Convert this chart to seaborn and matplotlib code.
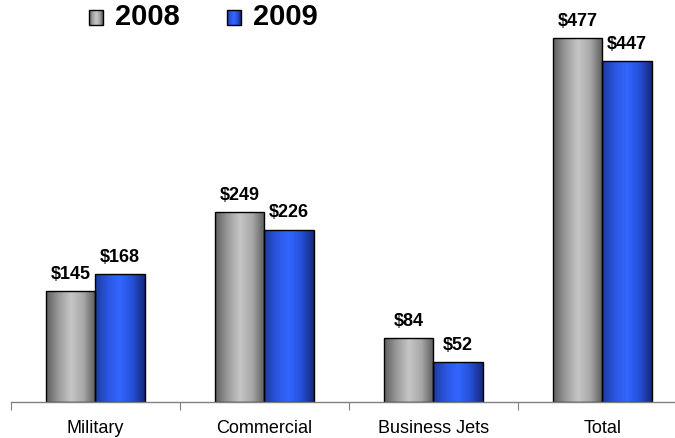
import matplotlib
matplotlib.use("Agg")
import matplotlib.pyplot as plt
import numpy as np
import pandas as pd
import seaborn as sns
from matplotlib.colors import LinearSegmentedColormap
from matplotlib.legend_handler import HandlerPatch
from matplotlib.patches import Patch, Rectangle

categories = ["Military", "Commercial", "Business Jets", "Total"]
years = ["2008", "2009"]
values_2008 = [145, 249, 84, 477]
values_2009 = [168, 226, 52, 447]

df = pd.DataFrame({
    "category": categories * 2,
    "year": [years[0]] * 4 + [years[1]] * 4,
    "value": values_2008 + values_2009,
})

# cylinder-like shading: dark edges, light band left of centre
cmaps = [
    LinearSegmentedColormap.from_list("grey", ["#5e5e5e", "#9a9a9a", "#c6c6c6", "#a8a8a8", "#5a5a5a"]),
    LinearSegmentedColormap.from_list("blue", ["#1c3a9c", "#2a55e0", "#3366ff", "#2550d8", "#16287a"]),
]


class GradientHandler(HandlerPatch):
    def __init__(self, cmap):
        super().__init__()
        self.cmap = cmap

    def create_artists(self, legend, orig_handle, xdescent, ydescent, width, height, fontsize, trans):
        n = 14
        side = width
        y0 = -ydescent + (height - side) / 2 - 0.12 * fontsize  # sit on text baseline
        arts = []
        for i in range(n):
            r = Rectangle((-xdescent + side * i / n, y0), side / n + 0.3, side,
                          facecolor=self.cmap((i + 0.5) / n), edgecolor="none", transform=trans)
            arts.append(r)
        arts.append(Rectangle((-xdescent, y0), side, side, facecolor="none",
                              edgecolor="black", linewidth=1, transform=trans))
        return arts


plt.rcParams["font.family"] = ["Liberation Sans", "DejaVu Sans"]
fig = plt.figure(figsize=(6.75, 4.38), dpi=100)
ax = fig.add_axes([11 / 675, 36 / 438, 676 / 675, 402 / 438])

sns.barplot(data=df, x="category", y="value", hue="year", palette=["#a0a0a0", "#2a55e0"],
            width=0.58, edgecolor="black", linewidth=1, saturation=1, legend=False, ax=ax)

ylim = (0, 527)
xlim = (-0.5, 3.5)
grad = np.linspace(0, 1, 256).reshape(1, -1)
for cont, cmap, vals in zip(ax.containers, cmaps, [values_2008, values_2009]):
    for bar in cont:
        x0, y0 = bar.get_x(), bar.get_y()
        im = ax.imshow(grad, cmap=cmap, aspect="auto", zorder=bar.get_zorder() - 0.1,
                       extent=(x0, x0 + bar.get_width(), y0, y0 + bar.get_height()))
        im.set_clip_path(bar)
        bar.set_facecolor("none")
    ax.bar_label(cont, labels=[f"${v}" for v in vals], padding=6,
                 fontsize=13, fontweight="bold")

ax.set_xlim(xlim)
ax.set_ylim(ylim)
ax.set_xlabel("")
ax.set_ylabel("")
ax.set_yticks([])
for s in ["top", "right", "left"]:
    ax.spines[s].set_visible(False)
ax.spines["bottom"].set_color("#808080")
ax.spines["bottom"].set_linewidth(1)

ax.set_xticks([-0.5, 0.5, 1.5, 2.5])
ax.set_xticklabels([])
ax.tick_params(axis="x", which="major", direction="out", length=6, color="#808080")
ax.set_xticks(range(len(categories)), minor=True)
ax.set_xticklabels(categories, minor=True, fontsize=13)
ax.tick_params(axis="x", which="minor", length=0, pad=13)

handles = [Patch(label=y) for y in years]
fig.legend(handles=handles, labels=years, loc="center left", bbox_to_anchor=(0.11, 0.962),
           ncol=2, frameon=False, borderpad=0, handlelength=0.5, handleheight=0.5,
           handletextpad=0.4, columnspacing=1.6,
           prop={"size": 21, "weight": "bold"},
           handler_map={handles[0]: GradientHandler(cmaps[0]), handles[1]: GradientHandler(cmaps[1])})

fig.savefig("out.png", dpi=100)
